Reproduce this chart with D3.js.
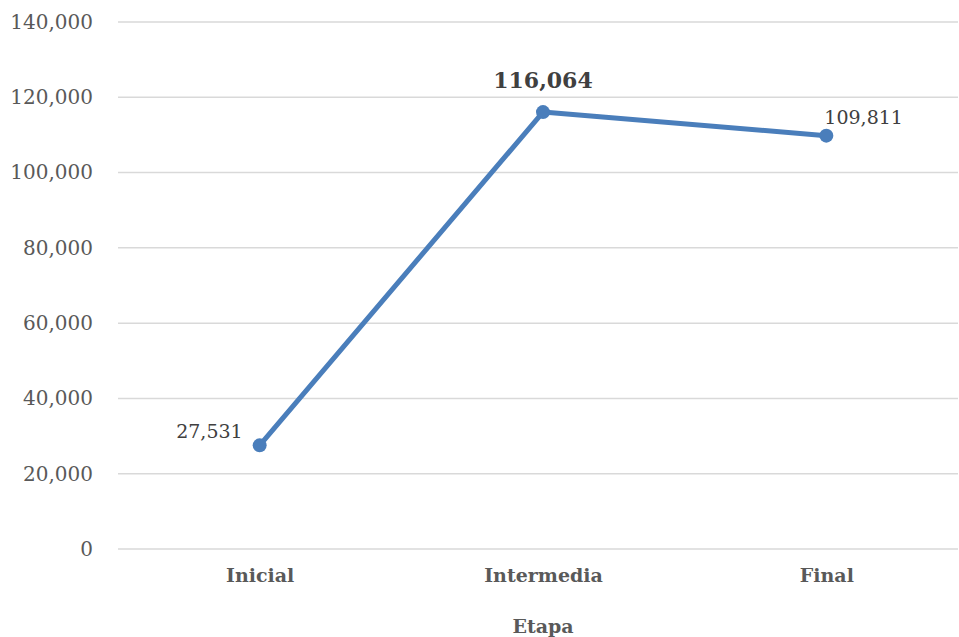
<!DOCTYPE html>
<html><head><meta charset="utf-8">
<script src="https://cdn.jsdelivr.net/npm/d3@7"></script>
<style>body{margin:0;background:#fff}svg{display:block}</style>
</head><body>
<svg id="c" width="959" height="637"></svg>
<script>
const categories = ["Inicial", "Intermedia", "Final"];
const values = [27531, 116064, 109811];
const yTicks = [0, 20000, 40000, 60000, 80000, 100000, 120000, 140000];
const axisTitle = "Etapa";

const svg = d3.select("#c");
const font = "'DejaVu Serif', serif";
const x = d3.scalePoint().domain(categories).range([118, 968]).padding(0.5);
const y = d3.scaleLinear().domain([0, 140000]).range([549, 22]);
const fmt = d3.format(",");

const grid = svg.append("g");
grid.selectAll("line").data(yTicks).join("line")
  .attr("x1", 118).attr("x2", 958)
  .attr("y1", d => y(d)).attr("y2", d => y(d))
  .attr("stroke", "#d9d9d9").attr("stroke-width", 1.5);

const yAxis = svg.append("g").attr("transform", "translate(118,0)")
  .call(d3.axisLeft(y).tickValues(yTicks).tickFormat(fmt).tickSize(0).tickPadding(25));
yAxis.select(".domain").remove();
yAxis.selectAll("text").attr("font-family", font).attr("font-size", 20).attr("fill", "#595959");

const xAxis = svg.append("g").attr("transform", "translate(0,549)")
  .call(d3.axisBottom(x).tickSize(0).tickPadding(20));
xAxis.select(".domain").remove();
xAxis.selectAll("text").attr("font-family", font).attr("font-size", 19)
  .attr("font-weight", "bold").attr("fill", "#595959");

svg.append("text").attr("x", x("Intermedia")).attr("y", 633)
  .attr("text-anchor", "middle").attr("font-family", font).attr("font-size", 19)
  .attr("font-weight", "bold").attr("fill", "#595959").text(axisTitle);

const data = categories.map((c, i) => ({c, v: values[i]}));
svg.append("path").datum(data)
  .attr("d", d3.line().x(d => x(d.c)).y(d => y(d.v)))
  .attr("fill", "none").attr("stroke", "#4a7ebb").attr("stroke-width", 5)
  .attr("stroke-linejoin", "round");
svg.selectAll("circle.m").data(data).join("circle").attr("class", "m")
  .attr("cx", d => x(d.c)).attr("cy", d => y(d.v)).attr("r", 7)
  .attr("fill", "#4a7ebb");

const lab = [
  {dx: -17, dy: -7, anchor: "end", bold: false},
  {dx: 0, dy: -24, anchor: "middle", bold: true},
  {dx: -2, dy: -12, anchor: "start", bold: false}
];
svg.selectAll("text.lbl").data(data).join("text").attr("class", "lbl")
  .attr("x", (d, i) => x(d.c) + lab[i].dx)
  .attr("y", (d, i) => y(d.v) + lab[i].dy)
  .attr("text-anchor", (d, i) => lab[i].anchor)
  .attr("font-family", font)
  .attr("font-size", (d, i) => lab[i].bold ? 22 : 19)
  .attr("font-weight", (d, i) => lab[i].bold ? "bold" : "normal")
  .attr("fill", "#404040")
  .text(d => fmt(d.v));
</script>
</body></html>
